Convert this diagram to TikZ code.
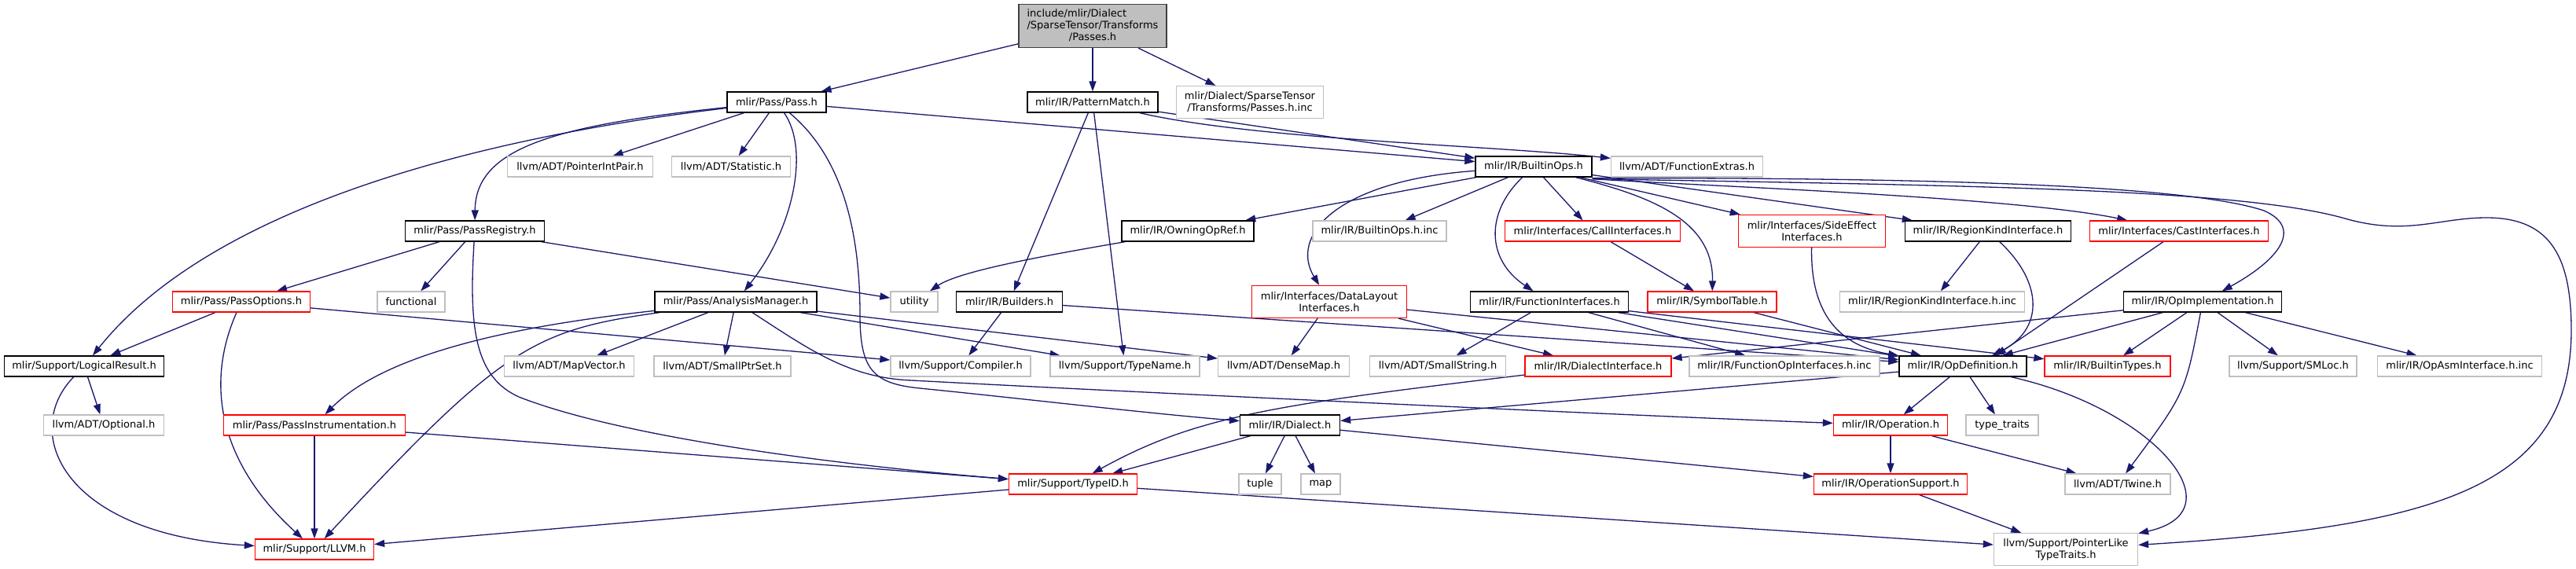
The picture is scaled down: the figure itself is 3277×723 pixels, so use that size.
\documentclass[tikz,border=0pt]{standalone}
\usepackage{fontspec}
\setmainfont{DejaVu Sans}
\usetikzlibrary{arrows.meta}
\definecolor{edgec}{HTML}{191970}
\definecolor{extc}{HTML}{BFBFBF}
\definecolor{rootline}{HTML}{404040}
\definecolor{redc}{HTML}{FF0000}
\pgfdeclarelayer{bg}
\pgfdeclarelayer{canvas}
\pgfsetlayers{canvas,bg,main}
\begin{document}
\begin{tikzpicture}[x=1pt,y=-1pt,
  box/.style={rectangle, draw, fill=white, line width=1.3pt, inner sep=0pt, minimum height=26pt,
    font=\fontsize{13pt}{15pt}\selectfont, align=center},
  blk/.style={box, draw=black},
  trunc/.style={box, draw=redc},
  ext/.style={box, draw=extc},
  rootbox/.style={box, draw=rootline, fill=extc},
  dep/.style={draw=edgec, line width=1.3pt, -{Triangle[length=13pt,width=9pt]}}]
\useasboundingbox (0,0) rectangle (3277,723);
\begin{pgfonlayer}{canvas}
\fill[white] (0,0) rectangle (3277,723);
\end{pgfonlayer}

\node[rootbox, minimum width=188pt, minimum height=55pt] (root) at (1390,33) {\begin{tabular}{@{}l@{}}include/mlir/Dialect\\/SparseTensor/Transforms\\\multicolumn{1}{@{}c@{}}{/Passes.h}\end{tabular}};
\node[blk, minimum width=126pt] (pass) at (988,130) {mlir/Pass/Pass.h};
\node[blk, minimum width=166pt] (pm) at (1390,130) {mlir/IR/PatternMatch.h};
\node[ext, minimum width=187pt, minimum height=41pt] (pinc) at (1590,130) {mlir/Dialect/SparseTensor\\/Transforms/Passes.h.inc};
\node[ext, minimum width=185pt] (pip) at (738,212) {llvm/ADT/PointerIntPair.h};
\node[ext, minimum width=151pt] (stat) at (930,212) {llvm/ADT/Statistic.h};
\node[blk, minimum width=148pt] (bops) at (1951,212) {mlir/IR/BuiltinOps.h};
\node[ext, minimum width=193pt] (fext) at (2146,212) {llvm/ADT/FunctionExtras.h};
\node[blk, minimum width=177pt] (preg) at (604,294) {mlir/Pass/PassRegistry.h};
\node[blk, minimum width=168pt] (oor) at (1511,294) {mlir/IR/OwningOpRef.h};
\node[ext, minimum width=170pt] (bopsinc) at (1755,294) {mlir/IR/BuiltinOps.h.inc};
\node[trunc, minimum width=223pt] (call) at (2026,294) {mlir/Interfaces/CallInterfaces.h};
\node[trunc, minimum width=187pt, minimum height=41pt] (side) at (2305,294) {mlir/Interfaces/SideEffect\\Interfaces.h};
\node[blk, minimum width=211pt] (rki) at (2529,294) {mlir/IR/RegionKindInterface.h};
\node[trunc, minimum width=227pt] (cast) at (2772,294) {mlir/Interfaces/CastInterfaces.h};
\node[trunc, minimum width=175pt] (popt) at (307,384) {mlir/Pass/PassOptions.h};
\node[ext, minimum width=86pt] (func) at (523,384) {functional};
\node[blk, minimum width=206pt] (am) at (936,384) {mlir/Pass/AnalysisManager.h};
\node[ext, minimum width=60pt] (util) at (1163,384) {utility};
\node[blk, minimum width=135pt] (bld) at (1284,384) {mlir/IR/Builders.h};
\node[trunc, minimum width=197pt, minimum height=41pt] (dl) at (1691,384) {mlir/Interfaces/DataLayout\\Interfaces.h};
\node[blk, minimum width=201pt] (fi) at (1971,384) {mlir/IR/FunctionInterfaces.h};
\node[trunc, minimum width=164pt] (sym) at (2178,384) {mlir/IR/SymbolTable.h};
\node[ext, minimum width=235pt] (rkiinc) at (2458,384) {mlir/IR/RegionKindInterface.h.inc};
\node[blk, minimum width=201pt] (opimpl) at (2802,384) {mlir/IR/OpImplementation.h};
\node[blk, minimum width=203pt] (lr) at (107,466) {mlir/Support/LogicalResult.h};
\node[ext, minimum width=165pt] (mv) at (724,466) {llvm/ADT/MapVector.h};
\node[ext, minimum width=174pt] (sps) at (919,466) {llvm/ADT/SmallPtrSet.h};
\node[ext, minimum width=178pt] (comp) at (1222,466) {llvm/Support/Compiler.h};
\node[ext, minimum width=190pt] (tn) at (1431,466) {llvm/Support/TypeName.h};
\node[ext, minimum width=167pt] (dm) at (1633,466) {llvm/ADT/DenseMap.h};
\node[ext, minimum width=173pt] (ss) at (1829,466) {llvm/ADT/SmallString.h};
\node[trunc, minimum width=186pt] (di) at (2033,466) {mlir/IR/DialectInterface.h};
\node[ext, minimum width=242pt] (foi) at (2270,466) {mlir/IR/FunctionOpInterfaces.h.inc};
\node[blk, minimum width=162pt] (opdef) at (2497,466) {mlir/IR/OpDefinition.h};
\node[trunc, minimum width=160pt] (btypes) at (2681,466) {mlir/IR/BuiltinTypes.h};
\node[ext, minimum width=162pt] (smloc) at (2917,466) {llvm/Support/SMLoc.h};
\node[ext, minimum width=209pt] (opasm) at (3129,466) {mlir/IR/OpAsmInterface.h.inc};
\node[ext, minimum width=153pt] (opt) at (132,541) {llvm/ADT/Optional.h};
\node[trunc, minimum width=231pt] (pinst) at (400,541) {mlir/Pass/PassInstrumentation.h};
\node[blk, minimum width=127pt] (dia) at (1641,541) {mlir/IR/Dialect.h};
\node[trunc, minimum width=145pt] (op) at (2405,541) {mlir/IR/Operation.h};
\node[ext, minimum width=92pt] (tt) at (2547,541) {type\_traits};
\node[trunc, minimum width=163pt] (tid) at (1365,616) {mlir/Support/TypeID.h};
\node[ext, minimum width=54pt] (tup) at (1603,616) {tuple};
\node[ext, minimum width=50pt] (mapn) at (1680,616) {map};
\node[trunc, minimum width=195pt] (opsup) at (2405,616) {mlir/IR/OperationSupport.h};
\node[ext, minimum width=134pt] (twine) at (2694,616) {llvm/ADT/Twine.h};
\node[trunc, minimum width=151pt] (llvm) at (400,699) {mlir/Support/LLVM.h};
\node[ext, minimum width=183pt, minimum height=41pt] (plt) at (2628,699) {llvm/Support/PointerLike\\TypeTraits.h};

\begin{pgfonlayer}{bg}
\draw[dep] (root) -- (pass);
\draw[dep] (root) -- (pm);
\draw[dep] (root) -- (pinc);
\draw[dep] (pass) -- (pip);
\draw[dep] (pass) -- (stat);
\draw[dep] (pass) -- (bops);
\draw[dep] (pass) .. controls (700,160) and (605,190) .. (preg);
\draw[dep] (pass) .. controls (650,170) and (280,250) .. (lr);
\draw[dep] (pass) .. controls (1030,190) and (1010,290) .. (am);
\draw[dep] (pass) .. controls (1060,190) and (1094,270) .. (1094,400) .. controls (1094,470) and (1110,488) .. (1170,494) .. controls (1300,507) and (1450,525) .. (dia);
\draw[dep] (preg) -- (popt);
\draw[dep] (preg) -- (func);
\draw[dep] (preg) .. controls (596,420) and (605,480) .. (660,505) .. controls (800,560) and (1100,595) .. (tid);
\draw[dep] (preg) -- (util);
\draw[dep] (popt) -- (lr);
\draw[dep] (popt) .. controls (260,490) and (280,590) .. (llvm);
\draw[dep] (popt) -- (comp);
\draw[dep] (lr) -- (opt);
\draw[dep] (lr) .. controls (25,550) and (80,680) .. (llvm);
\draw[dep] (am) .. controls (700,410) and (500,440) .. (pinst);
\draw[dep] (am) .. controls (680,420) and (640,440) .. (llvm);
\draw[dep] (am) -- (mv);
\draw[dep] (am) -- (sps);
\draw[dep] (am) -- (tn);
\draw[dep] (am) -- (dm);
\draw[dep] (am) .. controls (1030,445) and (1080,481) .. (1160,484) .. controls (1400,497) and (2100,530) .. (op);
\draw[dep] (pm) -- (bops);
\draw[dep] (pm) .. controls (1600,178) and (1900,185) .. (fext);
\draw[dep] (pm) -- (bld);
\draw[dep] (pm) -- (tn);
\draw[dep] (bops) -- (oor);
\draw[dep] (bops) -- (bopsinc);
\draw[dep] (bops) -- (call);
\draw[dep] (bops) .. controls (1700,230) and (1640,300) .. (dl);
\draw[dep] (bops) .. controls (1890,270) and (1890,330) .. (fi);
\draw[dep] (bops) .. controls (2100,250) and (2180,280) .. (sym);
\draw[dep] (bops) -- (side);
\draw[dep] (bops) -- (rki);
\draw[dep] ([yshift=-2pt]bops.south east) .. controls (2150,236) and (2560,250) .. (cast);
\draw[dep] ([yshift=-1pt]bops.south east) .. controls (2450,226) and (2780,235) .. (2880,268) .. controls (2930,290) and (2900,330) .. (opimpl);
\draw[dep] ([yshift=-2pt]bops.south east) .. controls (2500,236) and (2850,240) .. (2983,278) .. controls (3060,300) and (3100,278) .. (3160,277) .. controls (3240,276) and (3271,320) .. (3271,420) .. controls (3271,620) and (3100,670) .. (plt);
\draw[dep] (call) -- (sym);
\draw[dep] (side) .. controls (2303,400) and (2340,440) .. (opdef);
\draw[dep] (rki) -- (rkiinc);
\draw[dep] (rki) .. controls (2600,360) and (2600,420) .. ([xshift=37pt]opdef.north);
\draw[dep] (cast) -- ([xshift=42pt]opdef.north);
\draw[dep] (fi) -- (ss);
\draw[dep] (fi) -- (foi);
\draw[dep] (fi) -- (opdef);
\draw[dep] (fi) -- (btypes);
\draw[dep] (sym) -- (opdef);
\draw[dep] (dl) -- (dm);
\draw[dep] (dl) -- (di);
\draw[dep] (dl) -- (opdef);
\draw[dep] (bld) -- (comp);
\draw[dep] (bld) -- (opdef);
\draw[dep] (oor) .. controls (1330,325) and (1220,345) .. (util);
\draw[dep] (di) .. controls (1620,515) and (1520,530) .. (tid);
\draw[dep] (dia) -- (tid);
\draw[dep] (dia) -- (tup);
\draw[dep] (dia) -- (mapn);
\draw[dep] (dia) -- (opsup);
\draw[dep] (tid) -- (llvm);
\draw[dep] (tid) -- (plt);
\draw[dep] (pinst) -- (llvm);
\draw[dep] (pinst) -- (tid);
\draw[dep] (opdef) -- (dia);
\draw[dep] (opdef) -- (op);
\draw[dep] (opdef) -- (tt);
\draw[dep] (opdef) .. controls (2740,520) and (2850,650) .. (plt);
\draw[dep] (op) -- (opsup);
\draw[dep] (op) -- (twine);
\draw[dep] (opsup) -- (plt);
\draw[dep] (opimpl) -- (di);
\draw[dep] (opimpl) -- (opdef);
\draw[dep] (opimpl) -- (btypes);
\draw[dep] (opimpl) -- (smloc);
\draw[dep] (opimpl) -- (opasm);
\draw[dep] (opimpl) .. controls (2780,500) .. (twine);
\end{pgfonlayer}
\end{tikzpicture}
\end{document}
